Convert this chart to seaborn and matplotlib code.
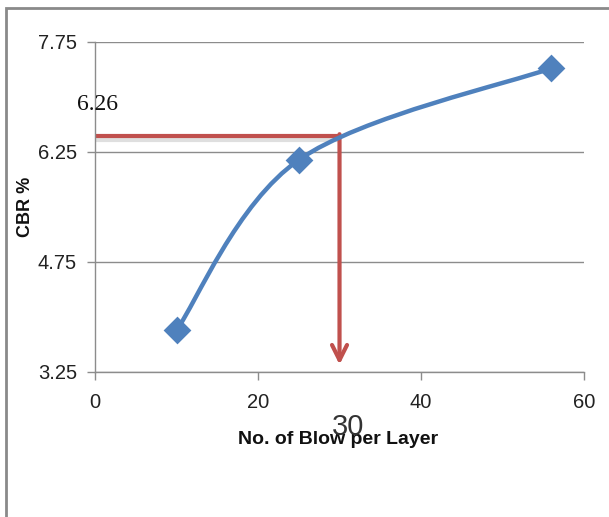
import matplotlib
matplotlib.use("Agg")
import matplotlib.pyplot as plt
import matplotlib.patheffects as pe
from matplotlib.path import Path
from matplotlib.patches import PathPatch, Rectangle
import seaborn as sns
import pandas as pd
import numpy as np

# data
blows = [10, 25, 56]
cbr = [3.82, 6.14, 7.39]
read_x = 30
read_y = 6.47
yticks = [3.25, 4.75, 6.25, 7.75]
xticks = [0, 20, 40, 60]
read_label = "6.26"

BLUE = "#4F81BD"
RED = "#C0504D"
GRID = "#8c8c8c"

sns.set_theme(style="white")
plt.rcParams['font.family'] = ['Liberation Sans', 'DejaVu Sans']

fig = plt.figure(figsize=(6.09, 5.17), dpi=100)
ax = fig.add_axes([0.156, 0.2805, 0.803, 0.6388])

df = pd.DataFrame({"blows": blows, "cbr": cbr})

# smoothed line (Excel-like Catmull-Rom Bezier)
pts = np.column_stack([blows, cbr]).astype(float)
verts = [tuple(pts[0])]
codes = [Path.MOVETO]
n = len(pts)
for i in range(n - 1):
    p0 = pts[i - 1] if i > 0 else pts[i]
    p1 = pts[i]
    p2 = pts[i + 1]
    p3 = pts[i + 2] if i + 2 < n else pts[i + 1]
    c1 = p1 + (p2 - p0) / 6.0
    c2 = p2 - (p3 - p1) / 6.0
    verts += [tuple(c1), tuple(c2), tuple(p2)]
    codes += [Path.CURVE4] * 3
ax.add_patch(PathPatch(Path(verts, codes), facecolor="none", edgecolor=BLUE,
                       lw=3.2, capstyle="round", zorder=3))

sns.scatterplot(data=df, x="blows", y="cbr", marker="D", s=200, color=BLUE,
                edgecolor=BLUE, linewidth=0, ax=ax, zorder=4)

# reading lines
ax.plot([0, read_x], [read_y, read_y], color=RED, lw=3, solid_capstyle="butt", zorder=2,
        path_effects=[pe.SimpleLineShadow(offset=(0, -3), shadow_color="gray", alpha=0.25),
                      pe.Normal()])
ax.annotate("", xy=(read_x, 3.35), xytext=(read_x, read_y + 0.02),
            arrowprops=dict(arrowstyle="->,head_length=0.9,head_width=0.45",
                            color=RED, lw=3, shrinkA=0, shrinkB=0), zorder=2)

ax.set_xlim(0, 60)
ax.set_ylim(3.25, 7.75)
ax.set_xticks(xticks)
ax.set_yticks(yticks)
ax.set_xticklabels([str(v) for v in xticks])
ax.set_yticklabels([f"{v:.2f}" for v in yticks])
ax.yaxis.grid(True, color=GRID, lw=1)
ax.xaxis.grid(False)
for s in ["top", "right"]:
    ax.spines[s].set_visible(False)
for s in ["left", "bottom"]:
    ax.spines[s].set_color(GRID)
    ax.spines[s].set_linewidth(1)
ax.tick_params(axis="both", which="major", direction="out", length=6, width=1,
               color=GRID, labelsize=14.5, labelcolor="#222222")
ax.tick_params(axis="y", pad=7, left=True)
ax.tick_params(axis="x", pad=9, bottom=True)
ax.set_xlabel("")
ax.set_ylabel("")

fig.text(338 / 609, 1 - 440 / 517, "No. of Blow per Layer", ha="center", va="center",
         fontsize=14, fontweight="bold", color="#111111")
fig.text(25 / 609, 1 - 207 / 517, "CBR %", ha="center", va="center", rotation=90,
         fontsize=13, fontweight="bold", color="#111111")
fig.text(348 / 609, 1 - 427 / 517, "30", ha="center", va="center",
         fontsize=21, color="#333333", family=["Liberation Sans Narrow", "Liberation Sans"])
fig.text(97 / 609, 1 - 104 / 517, read_label, ha="center", va="center",
         fontsize=17, color="#111111", family=["Liberation Serif", "DejaVu Serif"])

# chart frame
fig.patches.append(Rectangle((6 / 609, -0.1), 1.2, 1 - 8 / 517 + 0.1, transform=fig.transFigure,
                             fill=False, edgecolor="#8a8a8a", lw=2))

fig.savefig("out.png", dpi=100, facecolor="white")
